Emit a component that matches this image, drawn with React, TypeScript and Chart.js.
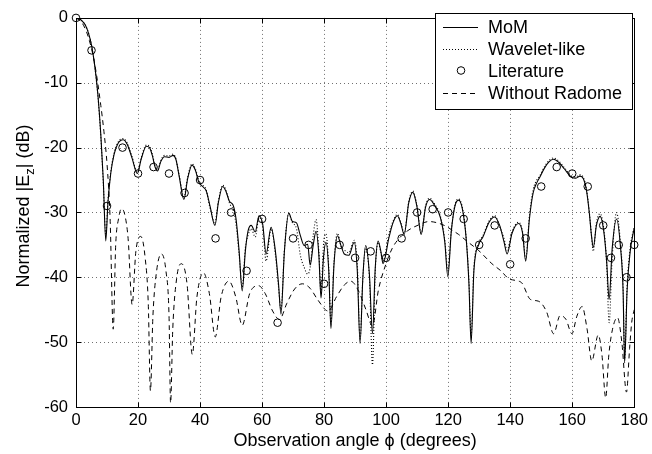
import React, { useEffect, useRef } from "react";
import { Chart, registerables } from "chart.js";
Chart.register(...registerables);

const FONT = "'Liberation Sans', Arial, Helvetica, sans-serif";

const xTicks = [0, 20, 40, 60, 80, 100, 120, 140, 160, 180];
const yTicks = [0, -10, -20, -30, -40, -50, -60];
const xTitle = "Observation angle ϕ (degrees)";
const yTitleStart = "Normalized |E";
const yTitleSub = "z";
const yTitleEnd = "| (dB)";
const legendLabels = ["MoM", "Wavelet-like", "Literature", "Without Radome"];

const momAngles = [
  0, 1, 2, 3, 4, 5, 6, 7, 8, 8.8, 9.6, 10.3, 11.2, 12.3, 13.5, 15.2, 16.5, 18, 19.8, 21,
  22.7, 23.7, 24.6, 25.5, 26.3, 27.3, 28.5, 30, 31.3, 32.2, 33.3, 34.8, 36, 37.4, 38.5, 39.6,
  40.8, 42, 43.2, 44.8, 45.9, 47.3, 48.4, 49.5, 50.6, 51.6, 52.6, 53.6, 54.6, 55.5, 56.5, 57.8,
  59, 60.2, 61.3, 62.9, 64.3, 65.3, 66.1, 67.2, 68.6, 69.8, 71.1, 72.3, 73.6, 74.7, 75.5, 76.5,
  77.4, 78.3, 79, 79.8, 80.6, 81.5, 82.2, 83.2, 84.3, 85.5, 86.5, 88, 89.7, 90.7, 91.6, 92.5,
  93.4, 94.6, 95.6, 96.5, 97.4, 98.3, 99, 100.9, 102.2, 103.6, 104.8, 105.8, 107.3, 108.6, 109.9,
  111.3, 112.7, 114, 115.5, 117.5, 118.9, 119.9, 121, 122.2, 123.4, 124.6, 125.8, 126.7, 127.4,
  128.3, 129.9, 131.2, 133.2, 135, 136.6, 138, 139, 140.6, 142.7, 144, 145, 146.2, 147.4, 148.6,
  149.5, 151, 152.5, 154, 155.7, 157.5, 159.9, 161.2, 162.5, 163.6, 164.6, 165.5, 166.2, 166.8,
  167.8, 169, 170.2, 171.1, 171.9, 172.9, 174.3, 175.6, 176.4, 176.9, 177.7, 178.7, 179.7, 180
];
const momValues = [
  0, -0.1, -0.5, -1.1, -2.3, -4.2, -7.2, -11.5, -18, -25, -34.4, -28.5, -24, -21, -19.4, -18.8, -19.5, -21.5, -24, -21.8,
  -19.8, -20, -21.2, -23, -23.6, -22.2, -21.4, -21.5, -21.2, -21.8, -24.5, -28, -24.8, -22.7, -23.5, -25.3,
  -26, -26.7, -29, -32, -28.5, -26, -26.8, -28.3, -28.8, -31, -36, -42.1, -36, -32.8, -32, -33,
  -30.5, -31.8, -36.4, -32.3, -36, -41, -45.7, -36, -30.1, -31.4, -31.6, -33.5, -35.1, -34.9, -38.1, -35,
  -32.9, -36.5, -43.2, -37, -34.6, -39, -47.9, -38, -33.6, -35.2, -36.4, -36.6, -34.6, -39, -50.2, -40,
  -35.1, -39.5, -48.7, -38.5, -34.4, -36, -37.9, -33.9, -31.6, -30.5, -31.8, -33.4, -28.5, -26.9, -29,
  -33.4, -29.2, -28, -28.8, -30.8, -34.5, -39.9, -33, -29, -28.1, -29.5, -34, -41, -50.2,
  -39, -34.9, -33.8, -31.5, -30.7, -32, -34.5, -36.4, -33.2, -31.7, -33.2, -37.5, -31, -27, -25.4,
  -24.6, -23.2, -22.2, -21.8, -22.3, -23.3, -24.6, -24.7, -24.4, -24.8, -26.6, -30, -33.5, -35.4,
  -32, -30.6, -33, -37.5, -43.4, -35.5, -31, -35.5, -42, -53.2, -42, -36, -33.1, -32.5
];
const waveletValues = [
  0, -0.1, -0.5, -1.1, -2.3, -4.2, -7.3, -11.8, -18.3, -25.5, -33.5, -28.2, -23.8, -20.8, -19.2, -18.6, -19.3, -21.3, -23.8, -21.6,
  -19.6, -19.8, -21, -22.8, -23.4, -22, -21.2, -21.3, -21, -21.7, -24.3, -27.6, -24.6, -22.5, -23.3, -25.1,
  -25.8, -26.5, -29.3, -31.5, -28.3, -25.8, -26.6, -28.6, -29.5, -31.8, -36.5, -41.5, -35.5, -33.5, -32.5, -33.8,
  -30.8, -32.2, -37.5, -32.5, -36.5, -41.5, -45, -35.8, -30.2, -31.6, -32.5, -36.5, -38.5, -39.5, -38.5, -33.5,
  -31.1, -36, -42.5, -35, -33.3, -38.5, -47, -37.5, -33.2, -35.3, -35.8, -36.2, -34.3, -38, -49.5, -40,
  -35.5, -40, -53.5, -39, -34.6, -36.2, -37.5, -33.3, -31.4, -30.3, -31.6, -33.2, -28.3, -26.7, -28.8,
  -33.2, -29, -27.8, -28.6, -30.6, -34.2, -39, -32.8, -28.8, -27.9, -29.3, -33.8, -40.5, -49,
  -38.5, -34.7, -33.6, -31.3, -30.5, -32.2, -34, -35.8, -33, -31.5, -33, -37.2, -30.5, -26.5, -25,
  -24.4, -23, -22, -21.6, -22.1, -23.1, -24.4, -24.5, -24.2, -24.6, -26.4, -29.8, -33.5, -36,
  -31.6, -30.2, -32.6, -37.8, -47, -37, -30, -35, -41.5, -52.5, -41.5, -35.5, -32.8, -32.2
];

const litAngles = [
  0, 5, 10, 15, 20, 25, 30, 35, 40, 45, 50, 55, 60, 65, 70, 75, 80, 85, 90, 95, 100,
  105, 110, 115, 120, 125, 130, 135, 140, 145, 150, 155, 160, 165, 170, 172.5, 175, 177.5, 180
];
const litValues = [
  0, -5, -29, -20, -24, -23, -24, -27, -25, -34, -30, -39, -31, -47, -34, -35, -41, -35, -37, -36, -37,
  -34, -30, -29.5, -30, -31, -35, -32, -38, -34, -26, -23, -24, -26, -32, -37, -35, -40, -35
];

const radomeAngles = [
  0, 2, 4, 6, 8, 9, 10, 11, 12, 12.8, 13.7, 14.7, 15.8, 16.8, 18.1, 19.3, 20.9, 22.3, 23.3, 24,
  24.8, 26, 27.5, 29, 30, 30.5, 31.2, 32.5, 34, 35.8, 37.5, 39, 41.1, 43, 44.9, 46.8, 49.3, 51.5,
  53.6, 56, 58.9, 61, 63.4, 65.6, 68, 70.5, 73, 75.5, 78, 81.3, 84, 86.5, 88.6, 91, 93.5, 95.6,
  97.5, 99.9, 102, 104, 107, 110.6, 113.8, 116.5, 119.2, 121.5, 123.4, 126.5, 129.9, 134.1, 137,
  139.5, 141.8, 143.8, 146.5, 149.2, 151.8, 154, 156.1, 158, 159.9, 161.5, 163.2, 164.8, 166.3,
  168.4, 169.6, 170.8, 171.8, 173, 174.6, 176, 177.5, 178.5, 179.2, 180
];
const radomeValues = [
  0, -0.8, -3, -7, -13.5, -17.5, -22.5, -31, -48, -35, -31, -29.4, -30.5, -34, -44.2, -36, -33.7, -37, -44, -57.5,
  -46, -39, -36.4, -39, -46, -59.4, -48, -40, -37.9, -41, -51.9, -43, -39.3, -42.5, -49.2, -43, -40.6, -43,
  -47.4, -42.5, -41.3, -42.5, -45.2, -46.5, -44, -41.8, -41, -41.7, -43.5, -45.2, -43, -41.2, -40.6, -42, -45, -47.5,
  -42, -38, -35.5, -34.1, -32.8, -31.9, -31.4, -31.6, -32.1, -32.8, -33.4, -34.6, -35.9, -37.9, -39,
  -40.2, -40.5, -40.9, -43.4, -43.7, -45.4, -48.7, -45.9, -46.5, -48.7, -46, -44.5, -48, -52.9,
  -48.9, -52, -58.6, -52, -48, -46.2, -50, -57.7, -51, -46.9, -45
];

const pts = (xs: number[], ys: number[]) => xs.map((x, i) => ({ x, y: ys[i] }));

const decorPlugin = {
  id: "decor",
  beforeDatasetsDraw(chart: any) {
    const { ctx, chartArea, scales } = chart;
    const { left, right, top, bottom } = chartArea;
    ctx.save();
    ctx.strokeStyle = "#707070";
    ctx.lineWidth = 1;
    ctx.setLineDash([1, 3]);
    for (const t of xTicks) {
      if (t === 0 || t === 180) continue;
      const px = Math.round(scales.x.getPixelForValue(t)) + 0.5;
      ctx.beginPath();
      ctx.moveTo(px, top);
      ctx.lineTo(px, bottom);
      ctx.stroke();
    }
    for (const t of yTicks) {
      if (t === 0 || t === -60) continue;
      const py = Math.round(scales.y.getPixelForValue(t)) + 0.5;
      ctx.beginPath();
      ctx.moveTo(left, py);
      ctx.lineTo(right, py);
      ctx.stroke();
    }
    ctx.restore();
  },
  afterDatasetsDraw(chart: any) {
    const { ctx, chartArea, scales } = chart;
    const { left, right, top, bottom } = chartArea;
    ctx.save();
    ctx.setLineDash([]);
    ctx.strokeStyle = "#000";
    ctx.lineWidth = 1;
    const L = Math.round(left) + 0.5, R = Math.round(right) + 0.5;
    const T = Math.round(top) + 0.5, B = Math.round(bottom) + 0.5;
    ctx.strokeRect(L, T, R - L, B - T);
    const tl = 5;
    for (const t of xTicks) {
      const px = Math.round(scales.x.getPixelForValue(t)) + 0.5;
      ctx.beginPath();
      ctx.moveTo(px, B); ctx.lineTo(px, B - tl);
      ctx.moveTo(px, T); ctx.lineTo(px, T + tl);
      ctx.stroke();
    }
    for (const t of yTicks) {
      const py = Math.round(scales.y.getPixelForValue(t)) + 0.5;
      ctx.beginPath();
      ctx.moveTo(L, py); ctx.lineTo(L + tl, py);
      ctx.moveTo(R, py); ctx.lineTo(R - tl, py);
      ctx.stroke();
    }

    // x title
    ctx.fillStyle = "#000";
    ctx.font = `18px ${FONT}`;
    ctx.textAlign = "center";
    ctx.textBaseline = "alphabetic";
    ctx.fillText(xTitle, (left + right) / 2, 446);

    // y title with subscript
    ctx.save();
    ctx.translate(29, 206);
    ctx.rotate(-Math.PI / 2);
    ctx.textAlign = "left";
    ctx.font = `18px ${FONT}`;
    const w1 = ctx.measureText(yTitleStart).width;
    const w3 = ctx.measureText(yTitleEnd).width;
    ctx.font = `13px ${FONT}`;
    const w2 = ctx.measureText(yTitleSub).width;
    let x0 = -(w1 + w2 + w3) / 2;
    ctx.font = `18px ${FONT}`;
    ctx.fillText(yTitleStart, x0, 0);
    ctx.font = `13px ${FONT}`;
    ctx.fillText(yTitleSub, x0 + w1, 5);
    ctx.font = `18px ${FONT}`;
    ctx.fillText(yTitleEnd, x0 + w1 + w2, 0);
    ctx.restore();

    // legend
    const bx = 435.5, by = 13.5, bw = 197, bh = 96;
    ctx.fillStyle = "#fff";
    ctx.fillRect(bx, by, bw, bh);
    ctx.strokeStyle = "#000";
    ctx.lineWidth = 1;
    ctx.strokeRect(bx, by, bw, bh);
    const rows = [27, 48.5, 70.5, 93];
    const ds = chart.data.datasets;
    ctx.font = `18px ${FONT}`;
    ctx.textAlign = "left";
    ctx.textBaseline = "alphabetic";
    rows.forEach((ry, i) => {
      const d = ds[i];
      ctx.strokeStyle = "#000";
      ctx.lineWidth = 1;
      if (i === 2) {
        ctx.setLineDash([]);
        ctx.beginPath();
        ctx.arc(461, ry, d.pointRadius, 0, Math.PI * 2);
        ctx.stroke();
      } else {
        ctx.setLineDash(d.borderDash || []);
        ctx.lineWidth = d.borderWidth;
        ctx.beginPath();
        ctx.moveTo(443, Math.round(ry) + 0.5);
        ctx.lineTo(478, Math.round(ry) + 0.5);
        ctx.stroke();
      }
      ctx.setLineDash([]);
      ctx.fillStyle = "#000";
      ctx.fillText(legendLabels[i], 488, ry + 6);
    });
    ctx.restore();
  },
};

export default function App() {
  const ref = useRef<HTMLCanvasElement>(null);
  useEffect(() => {
    const chart = new Chart(ref.current as HTMLCanvasElement, {
      type: "line",
      data: {
        datasets: [
          {
            label: legendLabels[0],
            data: pts(momAngles, momValues),
            borderColor: "#000",
            borderWidth: 1.1,
            pointRadius: 0,
            cubicInterpolationMode: "monotone",
            fill: false,
          },
          {
            label: legendLabels[1],
            data: pts(momAngles, waveletValues),
            borderColor: "#000",
            borderWidth: 1.1,
            borderDash: [1, 2],
            pointRadius: 0,
            cubicInterpolationMode: "monotone",
            fill: false,
          },
          {
            label: legendLabels[2],
            data: pts(litAngles, litValues),
            showLine: false,
            borderColor: "#000",
            backgroundColor: "rgba(0,0,0,0)",
            borderWidth: 1,
            pointRadius: 3.8,
            pointStyle: "circle",
            clip: false,
          },
          {
            label: legendLabels[3],
            data: pts(radomeAngles, radomeValues),
            borderColor: "#000",
            borderWidth: 1,
            borderDash: [5, 4],
            pointRadius: 0,
            cubicInterpolationMode: "monotone",
            fill: false,
          },
        ] as any,
      },
      options: {
        animation: false,
        responsive: false,
        devicePixelRatio: 1,
        events: [],
        layout: { padding: { left: 0, right: 16, top: 8, bottom: 0 }, autoPadding: false } as any,
        plugins: { legend: { display: false }, tooltip: { enabled: false } },
        scales: {
          x: {
            type: "linear",
            min: 0,
            max: 180,
            afterBuildTicks: (s: any) => { s.ticks = xTicks.map((v) => ({ value: v })); },
            afterFit: (s: any) => { s.height = 47; },
            grid: { display: false, drawTicks: false },
            border: { display: false },
            ticks: { color: "#000", font: { size: 16.5, family: FONT }, padding: 4, maxRotation: 0, autoSkip: false },
          },
          y: {
            type: "linear",
            min: -60,
            max: 0,
            afterBuildTicks: (s: any) => { s.ticks = yTicks.map((v) => ({ value: v })); },
            afterFit: (s: any) => { s.width = 76; },
            grid: { display: false, drawTicks: false },
            border: { display: false },
            ticks: { color: "#000", font: { size: 16.5, family: FONT }, padding: 8, autoSkip: false },
          },
        },
      } as any,
      plugins: [decorPlugin],
    });
    return () => chart.destroy();
  }, []);
  return (
    <div style={{ position: "absolute", left: 0, top: 0, width: 652, height: 454, background: "#fff" }}>
      <canvas ref={ref} width={652} height={454} style={{ display: "block", width: 652, height: 454 }} />
    </div>
  );
}
